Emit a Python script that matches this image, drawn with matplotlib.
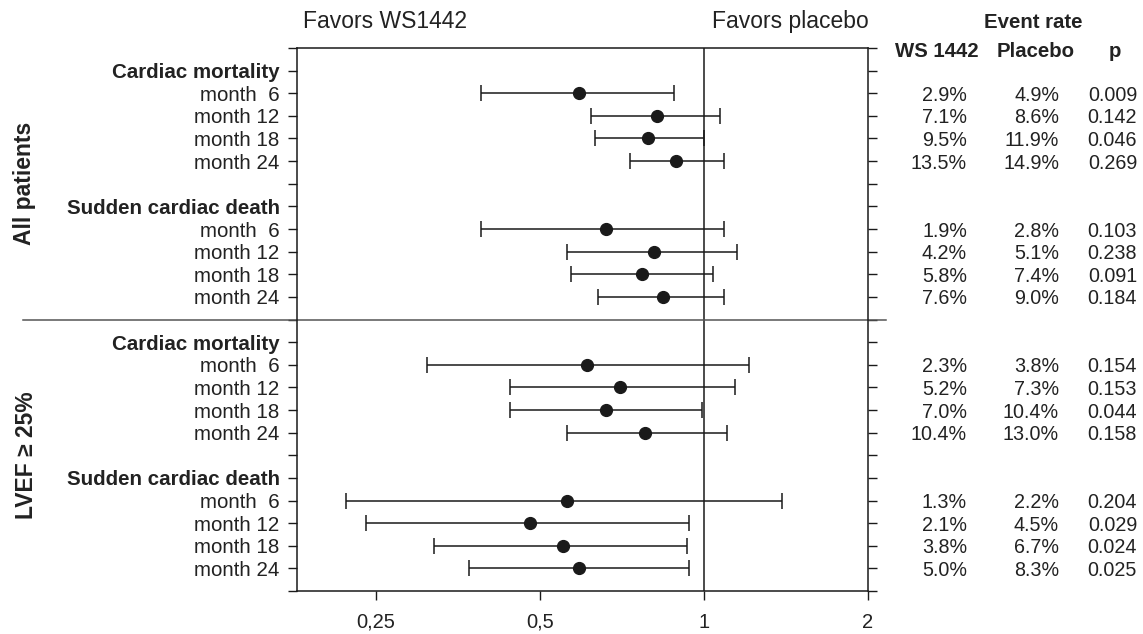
import matplotlib
matplotlib.use("Agg")
import matplotlib.pyplot as plt
from matplotlib.ticker import FixedLocator, NullLocator

plt.rcParams['font.family'] = ['Liberation Sans', 'DejaVu Sans']

# data (hazard ratio with 95% CI)
groups = ["All patients", "LVEF \u2265 25%"]
outcomes = ["Cardiac mortality", "Sudden cardiac death"]
months = [6, 12, 18, 24]

hr = [0.59, 0.82, 0.79, 0.89,
      0.66, 0.81, 0.77, 0.84,
      0.61, 0.70, 0.66, 0.78,
      0.56, 0.48, 0.55, 0.59]
ci_lo = [0.39, 0.62, 0.63, 0.73,
         0.39, 0.56, 0.57, 0.64,
         0.31, 0.44, 0.44, 0.56,
         0.22, 0.24, 0.32, 0.37]
ci_hi = [0.88, 1.07, 1.00, 1.09,
         1.09, 1.15, 1.04, 1.09,
         1.21, 1.14, 0.99, 1.10,
         1.39, 0.94, 0.93, 0.94]

ws_rate = ["2.9%", "7.1%", "9.5%", "13.5%",
           "1.9%", "4.2%", "5.8%", "7.6%",
           "2.3%", "5.2%", "7.0%", "10.4%",
           "1.3%", "2.1%", "3.8%", "5.0%"]
pl_rate = ["4.9%", "8.6%", "11.9%", "14.9%",
           "2.8%", "5.1%", "7.4%", "9.0%",
           "3.8%", "7.3%", "10.4%", "13.0%",
           "2.2%", "4.5%", "6.7%", "8.3%"]
p_vals = ["0.009", "0.142", "0.046", "0.269",
          "0.103", "0.238", "0.091", "0.184",
          "0.154", "0.153", "0.044", "0.158",
          "0.204", "0.029", "0.024", "0.025"]

xticks = [0.25, 0.5, 1, 2]
xtick_labels = ["0,25", "0,5", "1", "2"]

ink = "#1a1a1a"
txt = "#222222"

fig = plt.figure(figsize=(11.43, 6.34), dpi=100)
ax = fig.add_axes([0.2598, 0.0678, 0.4996, 0.8565])

# row layout
row_y = []
ytick_pos = []
ytick_lab = []
for g in range(len(groups)):
    for o in range(len(outcomes)):
        base = 12 * g + 6 * o + 1
        ytick_pos.append(base)
        ytick_lab.append(outcomes[o])
        for m_i, m in enumerate(months):
            row_y.append(base + 1 + m_i)
            ytick_pos.append(base + 1 + m_i)
            ytick_lab.append("month %2d" % m if m >= 10 else "month  %d" % m)

xerr = [[h - l for h, l in zip(hr, ci_lo)], [u - h for h, u in zip(hr, ci_hi)]]
ax.errorbar(hr, row_y, xerr=xerr, fmt='o', color=ink, ecolor=ink,
            markersize=8.5, elinewidth=1.1, capsize=5.5, capthick=1.1)

ax.axvline(1, color=ink, lw=1.1)

ax.set_xscale('log')
ax.set_xlim(0.179, 2)
ax.set_ylim(24, 0)
ax.xaxis.set_major_locator(FixedLocator(xticks))
ax.xaxis.set_minor_locator(NullLocator())
ax.set_xticklabels(xtick_labels)

all_ticks = list(range(0, 25))
ax.set_yticks(all_ticks)
labels = [""] * 25
for p, l in zip(ytick_pos, ytick_lab):
    labels[p] = l
ax.set_yticklabels(labels)
for p, t in zip(all_ticks, ax.get_yticklabels()):
    if labels[p] in outcomes:
        t.set_fontweight('bold')

ax.tick_params(axis='y', left=True, right=True, direction='out', length=6.5,
               width=1.0, pad=6, labelsize=14.8, colors=ink, labelcolor=txt)
ax.tick_params(axis='x', direction='out', length=6.5, width=1.0, pad=9,
               labelsize=14.5, colors=ink, labelcolor=txt)
for s in ax.spines.values():
    s.set_color(ink)
    s.set_linewidth(1.1)

# group labels
ax.text(-0.477, 6, groups[0], transform=ax.get_yaxis_transform(), rotation=90,
        ha='center', va='center', fontsize=16.5, fontweight='bold', color=txt)
ax.text(-0.474, 18, groups[1], transform=ax.get_yaxis_transform(), rotation=90,
        ha='center', va='center', fontsize=16.5, fontweight='bold', color=txt)

# divider between groups
ax.plot([-0.48, 1.0315], [12, 12], transform=ax.get_yaxis_transform(),
        color="#555555", lw=1.1, clip_on=False)

# favors labels
ax.text(0.0105, 1.0368, "Favors WS1442", transform=ax.transAxes, ha='left',
        va='baseline', fontsize=16.5, color=txt)
ax.text(1.002, 1.0368, "Favors placebo", transform=ax.transAxes, ha='right',
        va='baseline', fontsize=16.5, color=txt)

# event rate table
tr = ax.get_yaxis_transform()
ax.text(1.2889, 1.0368, "Event rate", transform=ax.transAxes, ha='center',
        va='baseline', fontsize=14.7, fontweight='bold', color=txt)
ax.text(1.1208, 0.983, "WS 1442", transform=ax.transAxes, ha='center',
        va='baseline', fontsize=14.7, fontweight='bold', color=txt)
ax.text(1.2942, 0.983, "Placebo", transform=ax.transAxes, ha='center',
        va='baseline', fontsize=14.7, fontweight='bold', color=txt)
ax.text(1.4326, 0.983, "p", transform=ax.transAxes, ha='center',
        va='baseline', fontsize=14.7, fontweight='bold', color=txt)

for y, a, b, p in zip(row_y, ws_rate, pl_rate, p_vals):
    ax.text(1.1734, y, a, transform=tr, ha='right', va='center_baseline',
            fontsize=14.2, color=txt)
    ax.text(1.3345, y, b, transform=tr, ha='right', va='center_baseline',
            fontsize=14.2, color=txt)
    ax.text(1.4711, y, p, transform=tr, ha='right', va='center_baseline',
            fontsize=14.2, color=txt)

fig.savefig("out.png", dpi=100)
